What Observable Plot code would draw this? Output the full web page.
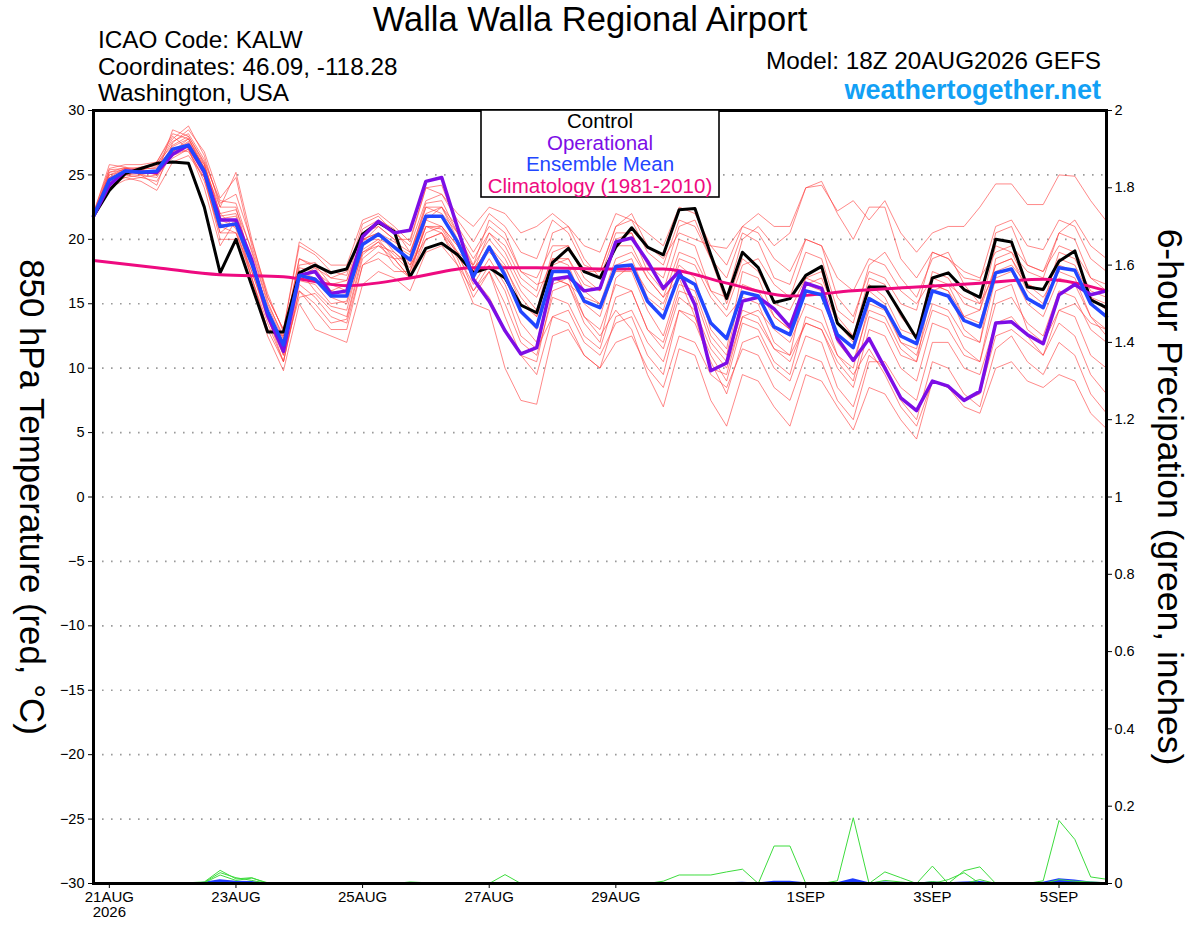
<!DOCTYPE html>
<html>
<head>
<meta charset="utf-8">
<script src="https://cdn.jsdelivr.net/npm/d3@7"></script>
<script src="https://cdn.jsdelivr.net/npm/@observablehq/plot@0.6"></script>
<style>
  html, body { margin: 0; padding: 0; background: #fff; }
  #chart { width: 1200px; height: 927px; }
</style>
</head>
<body>
<div id="chart"></div>
<script>
// ---- forecast hours from 18Z 20AUG2026 (6-hourly GEFS output) ----
const runStart = Date.UTC(2026, 7, 20, 18);
const forecastHours = d3.range(0, 385, 6);

// ---- Control (black) 850 hPa temperature, deg C ----
const control = [21.8,
  23.8, 25.1, 25.5, 25.9,  26.0, 25.9, 22.5, 17.4,  20.0, 16.4, 12.8, 12.8,
  17.4, 18.0, 17.4, 17.7,  20.4, 21.3, 20.6, 17.1,  19.3, 19.7, 18.8, 17.4,
  17.8, 17.0, 14.9, 14.3,  18.2, 19.3, 17.5, 17.0,  19.4, 20.9, 19.4, 18.8,
  22.3, 22.4, 18.8, 15.4,  19.0, 17.8, 15.1, 15.4,  17.2, 17.9, 13.5, 12.3,
  16.3, 16.3, 14.3, 12.3,  17.0, 17.4, 16.1, 15.5,  20.0, 19.8, 16.3, 16.1,
  18.3, 19.1, 15.3, 14.7];

// ---- Operational (purple) ----
const operational = [21.8,
  24.2, 25.3, 25.2, 25.2,  26.6, 27.3, 25.2, 21.5,  21.5, 18.4, 14.1, 11.3,
  17.2, 17.5, 15.8, 16.0,  20.2, 21.4, 20.5, 20.7,  24.5, 24.8, 20.9, 16.9,
  15.2, 12.9, 11.1, 11.6,  16.9, 17.1, 16.0, 16.2,  19.8, 20.1, 18.3, 16.2,
  17.5, 14.9,  9.8, 10.4,  15.2, 15.5, 14.6, 13.2,  16.6, 16.2, 12.3, 10.6,
  12.3, 10.0,  7.7,  6.7,   9.0,  8.6,  7.5,  8.2,  13.5, 13.6, 12.6, 11.9,
  15.7, 16.5, 15.7, 16.0];

// ---- Ensemble Mean (blue) ----
const ensembleMean = [21.8,
  24.6, 25.3, 25.2, 25.3,  27.0, 27.3, 25.3, 21.0,  21.2, 18.1, 14.4, 11.8,
  17.2, 16.9, 15.6, 15.6,  19.6, 20.4, 19.4, 18.4,  21.8, 21.8, 19.8, 17.1,
  19.4, 17.2, 14.4, 13.2,  17.5, 17.5, 15.2, 14.7,  17.9, 18.0, 15.2, 13.9,
  17.2, 16.5, 13.5, 12.3,  15.9, 15.6, 13.2, 12.6,  16.0, 15.7, 12.6, 11.6,
  15.4, 14.7, 12.5, 11.9,  16.0, 15.6, 13.7, 13.2,  17.4, 17.7, 15.4, 14.7,
  17.8, 17.6, 15.0, 14.0];

// ---- Climatology 1981-2010 (magenta), daily at 18Z ----
const climHours = [0, 24, 48, 72, 96, 120, 144, 168, 192, 216, 240, 264, 288, 312, 336, 360, 384];
const climatology = [18.35, 17.8, 17.25, 17.1, 16.4, 17.0, 17.8, 17.8, 17.7, 17.7, 16.6, 15.6, 16.0, 16.3, 16.6, 16.9, 16.0];

// ---- Ensemble members (thin red) ----
const member01 = [22.0,
  25.8, 25.6, 25.0, 24.2,  27.5, 28.5, 26.8, 23.2,  24.8, 19.5, 15.5, 13.0,
  19.5, 18.8, 17.5, 17.2,  21.2, 21.8, 20.5, 19.5,  23.0, 23.5, 21.5, 19.8,
  22.0, 21.0, 19.0, 18.5,  21.5, 20.5, 18.0, 17.5,  21.0, 21.5, 19.0, 18.0,
  21.5, 21.0, 18.5, 17.0,  20.5, 19.8, 17.0, 16.5,  20.0, 19.5, 15.5, 14.0,
  17.5, 17.0, 15.0, 14.5,  19.0, 18.5, 17.0, 16.8,  21.0, 21.5, 19.5, 19.2,
  21.5, 21.0, 18.5, 17.5];
const member02 = [21.9,
  24.0, 25.0, 25.3, 26.0,  28.2, 27.8, 25.8, 22.0,  20.8, 17.0, 13.5, 10.5,
  16.0, 15.0, 13.5, 13.8,  18.5, 19.5, 18.5, 17.0,  20.0, 20.5, 18.5, 15.5,
  17.5, 14.0, 11.0,  9.5,  14.0, 14.5, 12.0, 11.0,  13.5, 14.0, 11.0,  9.5,
  14.5, 13.5, 10.5,  8.0,  12.0, 12.5, 10.0,  9.0,  12.5, 12.0,  8.5,  7.0,
  11.0, 10.0,  7.5,  6.0,  10.5, 10.0,  8.0,  7.0,  11.5, 12.5, 10.5,  9.5,
  12.0, 11.0,  8.0,  6.5];
const member03 = [21.7,
  25.2, 25.6, 25.4, 25.0,  26.5, 27.0, 24.5, 20.5,  20.5, 17.5, 14.0, 12.0,
  17.8, 17.5, 16.5, 16.8,  20.0, 20.5, 19.0, 17.8,  21.0, 21.0, 19.5, 17.5,
  20.5, 19.0, 16.5, 15.5,  18.5, 18.5, 16.5, 16.0,  19.5, 19.5, 17.0, 15.5,
  19.0, 18.5, 16.0, 15.5,  20.0, 21.0, 19.5, 20.5,  24.0, 24.2, 22.2, 23.0,
  21.5, 23.0, 20.5, 19.0,  20.5, 21.0, 21.0, 22.5,  24.3, 24.3, 22.7, 22.7,
  25.0, 24.9, 23.0, 21.4];
const member04 = [21.8,
  24.3, 25.0, 24.8, 24.5,  26.8, 27.5, 25.5, 21.8,  22.0, 18.5, 14.5, 11.0,
  16.8, 16.5, 15.0, 15.2,  19.8, 21.0, 20.0, 20.0,  24.0, 24.2, 21.0, 17.0,
  15.5, 13.0, 11.0, 10.5,  16.0, 16.5, 15.5, 15.0,  18.5, 19.0, 17.0, 15.5,
  17.0, 14.0, 10.0,  9.5,  14.0, 14.5, 13.0, 12.0,  15.0, 14.5, 11.0,  9.5,
  11.5,  9.5,  7.0,  5.5,   9.0,  8.5,  7.5,  8.0,  12.5, 13.0, 12.0, 11.0,
  14.5, 15.0, 13.5, 13.0];
const member05 = [22.1,
  25.5, 25.8, 25.8, 26.0,  28.0, 27.0, 24.0, 19.5,  21.5, 17.0, 13.0, 12.5,
  17.0, 17.8, 17.0, 17.5,  20.5, 21.0, 20.0, 18.0,  20.0, 20.5, 19.0, 18.0,
  20.0, 18.5, 16.0, 14.5,  19.0, 19.5, 17.0, 16.0,  20.0, 20.5, 18.0, 17.0,
  21.0, 21.5, 18.5, 15.0,  18.5, 17.5, 15.0, 14.5,  17.0, 17.5, 13.5, 12.5,
  17.0, 16.5, 14.0, 12.5,  17.5, 17.0, 15.0, 14.5,  19.5, 19.0, 16.5, 16.0,
  18.5, 18.0, 15.5, 15.0];
const member06 = [21.6,
  24.8, 25.2, 25.5, 25.8,  27.8, 28.8, 26.5, 22.5,  22.5, 18.0, 14.0, 10.5,
  16.5, 15.5, 14.0, 13.5,  18.0, 18.5, 17.5, 17.5,  21.0, 20.5, 18.0, 15.0,
  14.5, 10.0,  7.5,  7.2,  12.5, 13.0, 11.0, 10.0,  14.0, 14.5, 12.0, 10.5,
  14.5, 14.0, 11.0,  9.0,  13.5, 13.0, 10.5,  9.5,  14.0, 13.5, 11.0, 10.0,
  15.0, 14.5, 12.0, 11.5,  16.5, 16.0, 14.0, 14.5,  18.0, 18.5, 16.5, 15.5,
  17.5, 17.0, 14.0, 12.5];
const member07 = [21.8,
  24.2, 24.8, 25.0, 25.3,  26.5, 27.3, 25.8, 21.5,  21.0, 18.5, 14.5, 11.5,
  17.5, 17.0, 15.5, 15.0,  19.0, 19.5, 19.0, 18.0,  21.5, 21.0, 19.5, 17.5,
  19.5, 18.0, 15.0, 14.0,  17.0, 16.5, 14.0, 12.5,  14.5, 13.0,  9.5,  7.0,
  11.5, 11.0,  7.5,  5.5,   9.5,  9.0,  7.0,  5.5,   9.5,  9.0,  7.0,  5.2,
   8.5,  8.0,  6.0,  4.5,   9.0,  8.5,  7.0,  6.5,  10.0, 10.5,  9.0,  8.5,
   9.5,  9.0,  6.5,  5.3];
const member08 = [22.0,
  25.0, 25.3, 25.5, 25.5,  27.2, 27.8, 25.5, 22.5,  25.2, 20.0, 15.5, 13.0,
  19.8, 19.0, 18.0, 18.0,  21.5, 22.0, 21.0, 19.8,  24.0, 23.5, 22.0, 21.0,
  22.5, 22.0, 20.5, 21.0,  22.0, 21.0, 19.5, 19.0,  22.0, 21.5, 20.5, 19.5,
  22.5, 22.0, 19.5, 18.0,  21.0, 20.5, 18.5, 17.5,  20.0, 19.5, 17.0, 16.0,
  18.5, 18.0, 16.0, 15.0,  17.0, 16.5, 15.5, 15.0,  17.5, 18.0, 16.5, 16.0,
  18.0, 17.5, 15.5, 14.5];
const member09 = [21.7,
  24.5, 24.8, 24.5, 23.8,  26.0, 26.5, 24.8, 20.0,  20.0, 16.5, 12.5,  9.8,
  15.0, 13.0, 12.5, 12.0,  16.5, 17.5, 17.0, 16.0,  19.0, 19.5, 18.0, 16.0,
  17.5, 15.0, 12.0, 11.0,  15.5, 15.0, 12.5, 11.5,  15.5, 16.0, 13.0, 12.0,
  16.0, 15.5, 12.0, 10.5,  14.5, 14.0, 11.5, 11.0,  13.5, 13.0, 10.5,  9.0,
  14.0, 13.5, 11.0, 10.5,  14.5, 14.0, 11.5, 10.5,  16.0, 16.5, 13.0, 12.0,
  14.5, 14.0, 11.0, 10.0];
const member10 = [21.9,
  25.4, 25.5, 25.3, 25.0,  28.5, 28.0, 26.0, 23.0,  22.8, 19.0, 15.0, 12.5,
  18.5, 18.0, 16.5, 16.0,  20.0, 20.0, 18.5, 18.5,  22.5, 22.5, 20.0, 17.5,
  19.5, 17.5, 14.5, 13.0,  18.0, 18.5, 16.0, 15.0,  17.5, 17.5, 14.5, 12.5,
  16.5, 16.0, 12.5, 11.0,  16.5, 16.0, 14.0, 13.0,  17.0, 16.5, 13.5, 12.0,
  16.5, 15.5, 13.0, 12.5,  16.0, 16.5, 14.0, 13.5,  18.0, 18.5, 16.0, 15.0,
  19.0, 18.5, 16.0, 15.5];
const member11 = [21.8,
  24.8, 25.5, 25.6, 25.7,  27.0, 26.8, 24.8, 20.5,  21.5, 18.0, 14.5, 12.0,
  17.0, 17.0, 16.0, 16.5,  20.0, 20.5, 19.8, 19.0,  22.0, 22.5, 21.0, 19.0,
  21.0, 20.0, 17.5, 17.0,  19.5, 19.5, 17.5, 17.5,  21.0, 22.0, 19.5, 18.5,
  20.5, 20.0, 19.5, 19.3,  21.0, 22.0, 21.0, 21.0,  24.0, 24.5, 22.0, 20.0,
  22.5, 22.5, 18.5, 17.0,  19.0, 18.5, 17.5, 17.0,  19.0, 19.5, 18.0, 17.5,
  19.5, 19.0, 17.0, 16.5];
const member12 = [21.6,
  24.0, 24.6, 24.8, 25.0,  26.8, 27.8, 25.5, 21.0,  20.5, 17.0, 13.0, 10.5,
  16.0, 14.5, 13.0, 13.0,  18.0, 19.0, 18.5, 17.0,  20.5, 21.0, 19.0, 16.0,
  18.0, 16.0, 12.5, 11.5,  14.0, 13.5, 11.0, 10.0,  12.0, 12.5, 10.0,  8.5,
  12.5, 12.0,  9.5,  8.5,  11.5, 11.0,  8.5,  7.5,  11.0, 10.5,  7.5,  6.0,
  10.5, 10.5,  8.5,  7.5,  12.0, 12.0, 10.0,  9.5,  13.5, 14.0, 12.5, 11.0,
  13.5, 12.5,  9.5,  8.0];
const member13 = [21.9,
  25.0, 25.5, 25.4, 25.6,  27.6, 28.2, 26.2, 22.8,  23.5, 19.8, 15.8, 12.8,
  18.0, 18.2, 17.0, 16.8,  20.8, 21.5, 20.8, 19.0,  22.5, 22.0, 20.5, 18.5,
  20.5, 19.5, 17.0, 16.0,  20.5, 21.0, 18.5, 17.0,  20.5, 20.5, 17.5, 16.0,
  20.0, 19.5, 16.0, 14.5,  18.0, 18.5, 16.5, 15.5,  19.0, 18.5, 14.5, 13.5,
  18.0, 19.0, 17.0, 15.5,  18.5, 19.0, 16.5, 15.0,  20.5, 21.0, 18.0, 17.5,
  20.5, 20.0, 17.0, 16.0];
const member14 = [21.7,
  24.4, 25.0, 25.1, 25.2,  26.3, 27.0, 25.0, 21.2,  21.0, 17.5, 13.8, 11.0,
  15.5, 15.8, 14.5, 14.0,  18.8, 19.8, 18.8, 17.5,  21.0, 20.8, 18.8, 16.5,
  18.5, 16.5, 13.5, 12.0,  16.5, 17.0, 14.0, 13.0,  16.5, 16.0, 13.0, 11.5,
  15.5, 14.5, 11.5, 10.0,  14.0, 13.5, 11.5, 10.5,  13.5, 13.0, 10.0,  8.5,
  13.0, 12.5, 10.0,  9.0,  13.5, 13.0, 11.0, 10.5,  15.0, 15.5, 13.5, 12.5,
  16.0, 15.5, 13.0, 12.0];
const member15 = [21.8,
  25.2, 25.4, 25.0, 24.8,  26.8, 27.6, 25.6, 21.6,  21.8, 18.2, 14.8, 12.2,
  18.5, 17.8, 16.0, 15.8,  19.0, 19.8, 18.0, 17.0,  21.5, 22.5, 20.5, 18.0,
  21.5, 20.5, 17.5, 16.5,  17.0, 16.5, 13.5, 12.0,  17.0, 18.0, 16.0, 15.0,
  18.0, 17.0, 13.0, 11.5,  17.5, 17.0, 14.0, 13.0,  16.5, 16.0, 12.0, 10.5,
  14.5, 14.0, 11.5, 10.5,  16.5, 16.0, 13.0, 12.0,  18.5, 19.0, 17.5, 17.0,
  20.5, 21.5, 19.5, 18.5];
const member16 = [22.0,
  24.6, 25.2, 25.6, 25.9,  27.3, 28.0, 25.9, 22.0,  22.3, 19.2, 15.2, 12.3,
  17.6, 16.0, 14.8, 14.5,  19.2, 20.0, 19.5, 18.8,  22.8, 23.0, 20.5, 17.8,
  19.0, 17.8, 15.5, 14.0,  18.5, 18.0, 15.0, 14.0,  18.0, 18.5, 15.5, 14.5,
  18.5, 18.0, 15.5, 14.0,  15.5, 15.0, 12.0, 11.0,  16.5, 17.0, 14.0, 12.5,
  16.0, 15.0, 12.0, 11.0,  15.0, 14.5, 12.5, 12.0,  17.0, 17.5, 15.0, 14.0,
  17.0, 16.5, 14.0, 13.0];
const members = [member01, member02, member03, member04, member05, member06, member07, member08,
                 member09, member10, member11, member12, member13, member14, member15, member16];

// ---- 6-hour precipitation (inches), ensemble members (green) ----
const precip01 = [0,
  0,0,0,0, 0,0,0,0, 0,0,0,0, 0,0,0,0, 0,0,0,0, 0,0,0,0, 0,0,0,0, 0,0,0,0,
  0,0,0,.006, .022,.022,.022,.03, .037,0,.097,.097, 0,0,.007,.17,
  0,.03,.015,0, .045,0,.033,.043, 0,0,0,.007, .163,.114,.017,.011];
const precip02 = [0,
  0,0,0,0, 0,.002,.004,.034, .012,.015,0,0, 0,0,0,0, 0,0,0,0, 0,0,0,0, 0,0,0,0, 0,0,0,0,
  0,0,0,0, 0,0,0,0, 0,0,0,0, 0,0,0,0, 0,0,0,0, 0,0,0,0, 0,0,0,0, 0,0,0,0];
const precip03 = [0,
  0,0,0,0, 0,0,.003,.028, .015,.008,0,0, 0,0,0,0, 0,0,0,.004, .002,0,0,0, 0,.023,0,0, 0,0,0,0,
  0,0,0,0, 0,0,0,0, 0,0,0,0, 0,0,0,0, 0,0,0,0, 0,0,0,0, 0,0,0,0, 0,0,0,0];
const precip04 = [0,
  0,0,0,0, 0,0,.002,.022, .008,.014,.002,0, 0,0,0,0, 0,0,0,0, 0,0,0,0, 0,0,0,0, 0,0,0,0,
  0,0,0,0, 0,0,0,0, 0,0,0,0, 0,0,0,0, 0,0,0,0, 0,.01,.028,0, 0,0,0,0, 0,0,0,0];
const precip05 = [0,
  0,0,0,0, 0,0,0,0, 0,0,0,0, 0,0,0,0, 0,0,0,0, 0,0,0,0, 0,0,0,0, 0,0,0,0,
  0,0,0,0, 0,0,0,0, 0,0,0,0, 0,0,0,0, 0,.008,.004,0, .005,0,0,.01, 0,0,0,0, .01,.006,.004,.002];
const precipMembers = [precip01, precip02, precip03, precip04, precip05];
const precipMean = [0,
  0,0,0,0, 0,0,.003,.01, .006,.005,.001,0, 0,0,0,0, 0,0,0,.001, 0,0,0,0, 0,.002,0,0, 0,0,0,0,
  0,0,0,0, .001,.001,.001,.002, .003,.001,.006,.006, .002,0,.002,.012,
  .002,.004,.002,.001, .004,.002,.004,.005, .001,0,.001,.003, .012,.009,.004,.002];

// ---- axis ticks ----
const xTickDates = ["2026-08-21", "2026-08-23", "2026-08-25", "2026-08-27", "2026-08-29", "2026-09-01", "2026-09-03", "2026-09-05"];
const xTickLabels = ["21AUG\n2026", "23AUG", "25AUG", "27AUG", "29AUG", "1SEP", "3SEP", "5SEP"];
const tempTicks = [-30, -25, -20, -15, -10, -5, 0, 5, 10, 15, 20, 25, 30];
const gridTicks = [-25, -20, -15, -10, -5, 0, 5, 10, 15, 20, 25];
const precipTicks = [0, 0.2, 0.4, 0.6, 0.8, 1, 1.2, 1.4, 1.6, 1.8, 2];

// ---- build tables ----
const times = forecastHours.map(h => new Date(runStart + h * 3600e3));
const seriesRows = (vals) => vals.map((v, i) => ({t: times[i], v}));
const memberRows = members.flatMap((vals, m) => vals.map((v, i) => ({t: times[i], v, m})));
// precipitation shares the frame: 0..2 inches on the right spans -30..30 on the left
const pToT = p => -30 + p * 30;
const precipRows = precipMembers.flatMap((vals, m) => vals.map((p, i) => ({t: times[i], v: pToT(p), m})));
const precipMeanRows = precipMean.map((p, i) => ({t: times[i], v: pToT(p)}));
const climRows = climHours.map((h, i) => ({t: new Date(runStart + h * 3600e3), v: climatology[i]}));
const tickDates = xTickDates.map(s => new Date(s + "T00:00:00Z"));
const tickLabelOf = d => xTickLabels[tickDates.findIndex(t => +t === +d)];

const FONT = "'Liberation Sans', Arial, Helvetica, sans-serif";

const chart = Plot.plot({
  width: 1200,
  height: 927,
  marginLeft: 93,
  marginRight: 94,
  marginTop: 110,
  marginBottom: 44,
  style: {fontFamily: FONT, background: "#fff", color: "#000", overflow: "visible"},
  x: {type: "utc", domain: [times[0], times[times.length - 1]]},
  y: {domain: [-30, 30]},
  marks: [
    Plot.ruleY(gridTicks, {stroke: "#9a9a9a", strokeWidth: 1.6, strokeDasharray: "1.6,7.4"}),
    Plot.line(memberRows, {x: "t", y: "v", z: "m", stroke: "#ff3b3b", strokeWidth: 0.75, strokeOpacity: 0.8}),
    Plot.areaY(precipMeanRows, {x: "t", y1: -30, y2: "v", fill: "#1e3cff"}),
    Plot.line(precipRows, {x: "t", y: "v", z: "m", stroke: "#3ddc3d", strokeWidth: 1}),
    Plot.line(seriesRows(control), {x: "t", y: "v", stroke: "#000", strokeWidth: 3}),
    Plot.line(climRows, {x: "t", y: "v", stroke: "#ee0a80", strokeWidth: 3, curve: "monotone-x"}),
    Plot.line(seriesRows(operational), {x: "t", y: "v", stroke: "#7d0de6", strokeWidth: 3.5}),
    Plot.line(seriesRows(ensembleMean), {x: "t", y: "v", stroke: "#2246ff", strokeWidth: 3.5}),
    Plot.axisY({ticks: tempTicks, tickSize: 5, tickPadding: 4, fontSize: 14.5, label: null}),
    Plot.axisY({anchor: "right", ticks: precipTicks.map(pToT), tickFormat: d => d3.format("~g")(+((d + 30) / 30).toFixed(1)),
                tickSize: 5, tickPadding: 3, fontSize: 14.5, label: null}),
    Plot.axisX({ticks: tickDates, tickFormat: tickLabelOf, tickSize: 5, tickPadding: 3, fontSize: 15, label: null}),
    Plot.frame({stroke: "#000", strokeWidth: 3})
  ]
});
document.getElementById("chart").appendChild(chart);

// ---- titles, header text and legend box ----
const svg = d3.select(chart);
const addText = (x, y, str, opts = {}) => svg.append("text")
  .attr("x", x).attr("y", y)
  .attr("text-anchor", opts.anchor || "start")
  .attr("font-family", FONT)
  .attr("font-size", opts.size || 24)
  .attr("font-weight", opts.weight || "normal")
  .attr("fill", opts.fill || "#000")
  .attr("transform", opts.rotate ? `rotate(${opts.rotate},${x},${y})` : null)
  .attr("dominant-baseline", opts.baseline || null)
  .text(str);

addText(590, 31, "Walla Walla Regional Airport", {anchor: "middle", size: 34.5});
addText(98, 48, "ICAO Code: KALW", {size: 24.3});
addText(98, 74.5, "Coordinates: 46.09, -118.28", {size: 24.3});
addText(98, 101, "Washington, USA", {size: 24.3});
addText(1101, 69, "Model: 18Z 20AUG2026 GEFS", {anchor: "end", size: 24.3});
addText(1101, 99, "weathertogether.net", {anchor: "end", size: 27, weight: "bold", fill: "#12a0f5"});
addText(32, 497, "850 hPa Temperature (red, \u00B0C)", {anchor: "middle", size: 34.8, rotate: 90, baseline: "central"});
addText(1170, 497, "6-hour Precipation (green, inches)", {anchor: "middle", size: 35.5, rotate: 90, baseline: "central"});

svg.append("rect").attr("x", 481).attr("y", 110).attr("width", 238).attr("height", 87)
  .attr("fill", "#fff").attr("stroke", "#000").attr("stroke-width", 1.6);
addText(600, 128, "Control", {anchor: "middle", size: 20.5});
addText(600, 149.5, "Operational", {anchor: "middle", size: 20.5, fill: "#7d0de6"});
addText(600, 171, "Ensemble Mean", {anchor: "middle", size: 20.5, fill: "#2246ff"});
addText(600, 192.5, "Climatology (1981-2010)", {anchor: "middle", size: 20.5, fill: "#ee0a80"});
</script>
</body>
</html>
